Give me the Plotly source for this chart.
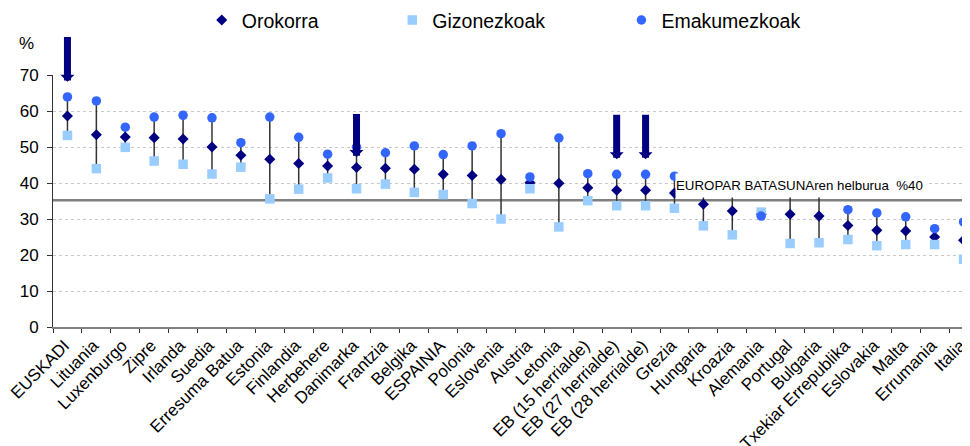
import plotly.graph_objects as go

categories = ["EUSKADI", "Lituania", "Luxenburgo", "Zipre", "Irlanda", "Suedia",
              "Erresuma Batua", "Estonia", "Finlandia", "Herbehere", "Danimarka",
              "Frantzia", "Belgika", "ESPAINIA", "Polonia", "Eslovenia", "Austria",
              "Letonia", "EB (15 herrialde)", "EB (27 herrialde)", "EB (28 herrialde)",
              "Grezia", "Hungaria", "Kroazia", "Alemania", "Portugal", "Bulgaria",
              "Txekiar Errepublika", "Eslovakia", "Malta", "Errumania", "Italia"]

orokorra = [58.6, 53.4, 52.8, 52.6, 52.2, 50.0, 47.7, 46.6, 45.4, 44.7, 44.3,
            44.1, 43.8, 42.4, 42.1, 41.0, 40.1, 39.9, 38.7, 38.0, 38.0,
            37.2, 34.1, 32.2, 31.3, 31.3, 30.8, 28.2, 26.9, 26.7, 25.0, 24.1]

gizonezkoak = [53.2, 44.0, 49.9, 46.1, 45.2, 42.5, 44.4, 35.6, 38.3, 41.4, 38.4,
               39.7, 37.4, 36.8, 34.3, 30.0, 38.4, 27.8, 35.1, 33.7, 33.7,
               33.0, 28.1, 25.6, 31.9, 23.2, 23.4, 24.3, 22.6, 22.9, 22.9, 18.8]

emakumezkoak = [63.9, 62.8, 55.5, 58.3, 58.8, 58.1, 51.2, 58.3, 52.7, 48.0, 50.0,
                48.4, 50.3, 47.9, 50.3, 53.7, 41.7, 52.5, 42.6, 42.4, 42.4,
                41.9, 40.1, 38.8, 30.8, 39.4, 38.2, 32.6, 31.7, 30.6, 27.3, 29.2]

goal_value = 35.2
goal_label = "EUROPAR BATASUNAren helburua  %40"

# highlighted categories: (category, arrow tip value, arrow tail value)
arrows = [("EUSKADI", 68.1, 81.0),
          ("Danimarka", 47.2, 59.6),
          ("EB (27 herrialde)", 46.6, 59.4),
          ("EB (28 herrialde)", 46.6, 59.4)]

y_ticks = [0, 10, 20, 30, 40, 50, 60, 70]

FONT = "Liberation Sans, Arial, sans-serif"

# range lines (min-max per category)
lx, ly = [], []
for c, a, b, d in zip(categories, orokorra, gizonezkoak, emakumezkoak):
    lo, hi = min(a, b, d), max(a, b, d)
    lx += [c, c, None]
    ly += [lo, hi, None]

fig = go.Figure()
fig.add_trace(go.Scatter(x=lx, y=ly, mode="lines", showlegend=False,
                         line=dict(color="#333333", width=1.5), hoverinfo="skip"))
fig.add_trace(go.Scatter(x=categories, y=orokorra, mode="markers", name="Orokorra",
                         marker=dict(symbol="diamond", size=8.5, color="#000080",
                                     line=dict(width=0)), legend="legend"))
fig.add_trace(go.Scatter(x=categories, y=gizonezkoak, mode="markers", name="Gizonezkoak",
                         marker=dict(symbol="square", size=9.5, color="#99CCFF",
                                     line=dict(width=0)), legend="legend2"))
fig.add_trace(go.Scatter(x=categories, y=emakumezkoak, mode="markers", name="Emakumezkoak",
                         marker=dict(symbol="circle", size=9.5, color="#3366FF",
                                     line=dict(width=0)), legend="legend3"))

fig.add_shape(type="line", xref="paper", x0=0, x1=1, yref="y", y0=goal_value, y1=goal_value,
              line=dict(color="#808080", width=2.5), layer="between")

annotations = [
    dict(text=goal_label, xref="paper", x=0.6723, xanchor="left", yref="y", y=39.4,
         yanchor="middle", showarrow=False, bgcolor="white", width=252, height=23,
         align="left", borderpad=0, font=dict(family=FONT, size=13.3, color="black")),
    dict(text="%", xref="paper", x=-0.029, yref="paper", y=1.1256, showarrow=False,
         xanchor="center", yanchor="middle", font=dict(family=FONT, size=17, color="black")),
]
for cat, tip, tail in arrows:
    annotations.append(dict(x=cat, y=tip, ax=cat, ay=tail, xref="x", yref="y",
                            axref="x", ayref="y", text="", showarrow=True,
                            arrowhead=1, arrowsize=0.333, arrowwidth=7, arrowcolor="#000080"))

legend_common = dict(orientation="h", yref="paper", y=1.217, yanchor="middle",
                     xanchor="left", bgcolor="rgba(0,0,0,0)",
                     font=dict(family=FONT, size=19.5, color="black"))

fig.update_layout(
    width=970, height=446,
    margin=dict(l=45.3, r=0, t=66.7, b=127, autoexpand=False),
    paper_bgcolor="white", plot_bgcolor="white",
    font=dict(family=FONT, color="black"),
    annotations=annotations,
    legend=dict(x=0.1608, **legend_common),
    legend2=dict(x=0.3668, **legend_common),
    legend3=dict(x=0.6145, **legend_common),
    xaxis=dict(type="category", range=[-0.5, 31.5], showgrid=False,
               showline=True, linecolor="#808080", linewidth=2,
               ticks="outside", tickson="boundaries", ticklen=4, tickcolor="#333333",
               ticklabelshift=-3,
               tickangle=-45, tickfont=dict(family=FONT, size=17, color="black")),
    yaxis=dict(range=[0, 70], tickvals=y_ticks, showgrid=True, gridcolor="#c8c8c8",
               griddash="dot", gridwidth=1, zeroline=False,
               showline=True, linecolor="#333333", linewidth=1,
               ticks="outside", ticklen=5, tickcolor="#333333", ticklabelstandoff=5,
               tickfont=dict(family=FONT, size=17, color="black")),
)

fig.write_html("out.html")
